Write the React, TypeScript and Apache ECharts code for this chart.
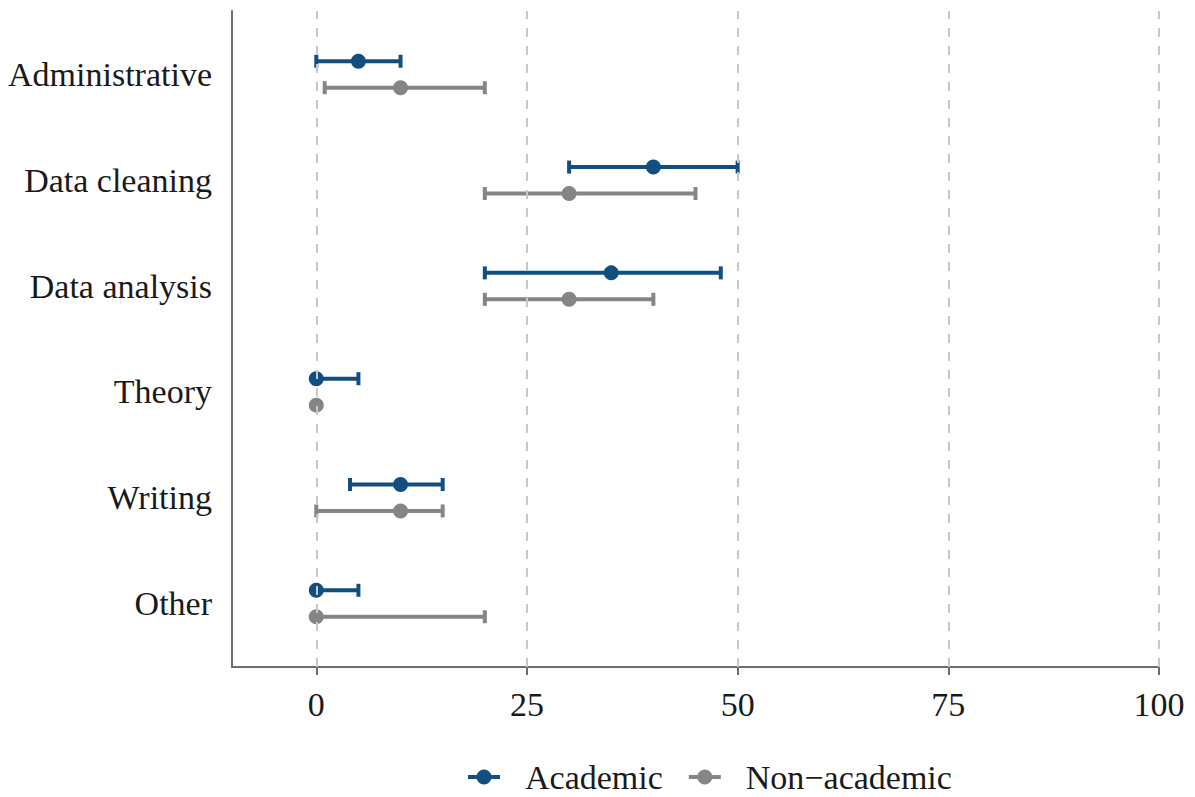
import React, { useEffect, useRef } from "react";
import * as echarts from "echarts";

const categories = ["Administrative", "Data cleaning", "Data analysis", "Theory", "Writing", "Other"];
const academicMid = [5, 40, 35, 0, 10, 0];
const academicLow = [0, 30, 20, 0, 4, 0];
const academicHigh = [10, 50, 48, 5, 15, 5];
const nonAcademicMid = [10, 30, 30, 0, 10, 0];
const nonAcademicLow = [1, 20, 20, 0, 0, 0];
const nonAcademicHigh = [20, 45, 40, 0, 15, 20];
const xTicks = [0, 25, 50, 75, 100];

const BLUE = "#124e80";
const GRAY = "#858585";
const FONT = "'Liberation Serif', 'Times New Roman', serif";

const n = categories.length;
const yPos = (i: number) => n - i;
const OFF = 0.125;

function errorSeries(name: string, low: number[], high: number[], off: number, color: string) {
  return {
    name,
    type: "custom",
    z: 2,
    data: low.map((l, i) => [l, high[i], yPos(i) + off]),
    encode: { x: [0, 1], y: 2 },
    renderItem: (params: any, api: any) => {
      const a = api.coord([api.value(0), api.value(2)]);
      const b = api.coord([api.value(1), api.value(2)]);
      const h = 6.5;
      const style = { stroke: color, lineWidth: 4 };
      return {
        type: "group",
        children: [
          { type: "line", shape: { x1: a[0], y1: a[1], x2: b[0], y2: b[1] }, style },
          { type: "line", shape: { x1: a[0], y1: a[1] - h, x2: a[0], y2: a[1] + h }, style },
          { type: "line", shape: { x1: b[0], y1: b[1] - h, x2: b[0], y2: b[1] + h }, style },
        ],
      };
    },
  };
}

function pointSeries(name: string, mid: number[], off: number, color: string) {
  return {
    name,
    type: "scatter",
    z: 3,
    symbol: "circle",
    symbolSize: 15,
    itemStyle: { color, opacity: 1 },
    data: mid.map((m, i) => [m, yPos(i) + off]),
  };
}

const legendIcon = "path://M0,5.5 L32,5.5 L32,9.5 L0,9.5 Z M16,0 A7.5,7.5 0 1,1 15.99,0 Z";

export default function App() {
  const ref = useRef<HTMLDivElement>(null);
  useEffect(() => {
    if (!ref.current) return;
    const chart = echarts.init(ref.current, null, { renderer: "svg" });
    chart.setOption({
      animation: false,
      backgroundColor: "#ffffff",
      textStyle: { fontFamily: FONT },
      grid: { left: 232, right: 36, top: 11, bottom: 130, containLabel: false },
      legend: {
        top: 755,
        left: 463,
        itemWidth: 32,
        itemHeight: 15,
        itemGap: 26,
        data: [
          { name: "Academic", icon: legendIcon, itemStyle: { color: BLUE } },
          { name: "Non\u2212academic", icon: legendIcon, itemStyle: { color: GRAY } },
        ],
        textStyle: { fontFamily: FONT, fontSize: 34, color: "#1a1a1a", padding: [0, 0, 0, 20] },
      },
      xAxis: {
        type: "value",
        min: -10,
        max: 100,
        axisLine: { show: true, onZero: false, lineStyle: { color: "#6e6e6e", width: 2 } },
        axisTick: { show: true, customValues: xTicks, length: 8, lineStyle: { color: "#6e6e6e", width: 2 } },
        axisLabel: {
          customValues: xTicks,
          margin: 20,
          fontFamily: FONT,
          fontSize: 34,
          color: "#1a1a1a",
        },
        splitLine: { show: false },
      },
      yAxis: {
        type: "value",
        min: 0.4,
        max: 6.6,
        axisLine: { show: true, onZero: false, lineStyle: { color: "#6e6e6e", width: 2 } },
        axisTick: { show: false },
        axisLabel: {
          customValues: categories.map((_, i) => yPos(i)),
          formatter: (v: number) => categories[n - Math.round(v)] ?? "",
          margin: 20,
          fontFamily: FONT,
          fontSize: 34,
          color: "#1a1a1a",
        },
        splitLine: { show: false },
      },
      series: [
        {
          type: "line",
          data: [],
          silent: true,
          markLine: {
            silent: true,
            symbol: "none",
            label: { show: false },
            lineStyle: { color: "#c8c8c8", type: [9, 9], width: 2 },
            data: xTicks.map((t) => ({ xAxis: t })),
          },
        },
        errorSeries("Academic", academicLow, academicHigh, OFF, BLUE),
        errorSeries("Non\u2212academic", nonAcademicLow, nonAcademicHigh, -OFF, GRAY),
        pointSeries("Academic", academicMid, OFF, BLUE),
        pointSeries("Non\u2212academic", nonAcademicMid, -OFF, GRAY),
      ],
    });
    return () => chart.dispose();
  }, []);
  return <div ref={ref} style={{ width: 1195, height: 797, position: "absolute", left: 0, top: 0 }} />;
}
